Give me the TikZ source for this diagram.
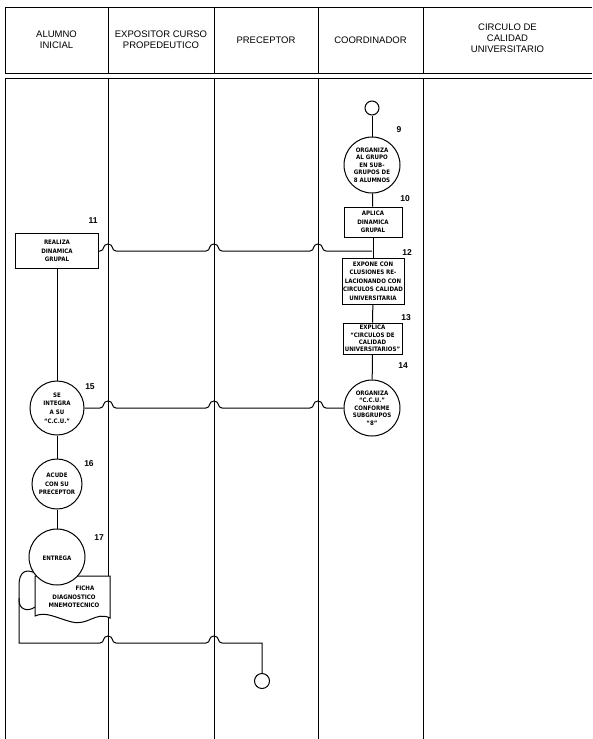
\documentclass[tikz,border=0pt]{standalone}
\usepackage{fontspec}
\setmainfont{Liberation Sans}
\newfontfamily\nodefont{DejaVu Sans Condensed}
\begin{document}
\begin{tikzpicture}[x=1pt,y=-1pt,line width=1pt,
  lane/.style={line width=0.9pt},
  head/.style={font=\fontsize{9.5}{11}\selectfont, align=center, inner sep=0pt},
  txt/.style={font=\nodefont\bfseries\fontsize{6.1}{8.6}\selectfont, align=center},
  tight/.style={font=\nodefont\bfseries\fontsize{6.1}{7.4}\selectfont},
  proc/.style 2 args={draw, rectangle, fill=white, minimum width=#1, minimum height=#2, inner sep=0pt, txt},
  act/.style={draw, circle, fill=white, minimum size=#1, inner sep=0pt, txt},
  term/.style={draw, circle, fill=white, minimum size=#1, inner sep=0pt},
  num/.style={font=\bfseries\fontsize{8.5}{9}\selectfont, inner sep=0pt},
  jump/.style 2 args={insert path={-- (#1-8,#2) .. controls (#1-3,#2) and (#1-6,#2-7) .. (#1,#2-7) .. controls (#1+6,#2-7) and (#1+3,#2) .. (#1+8,#2)}}]
\useasboundingbox (0,0) rectangle (592,739);
% lanes
\draw[lane] (5,7) -- (592,7);
\draw[lane] (5,73) -- (592,73);
\draw[lane] (5,78) -- (592,78);
\foreach \xx in {5,108,214,318,423} {
  \draw[lane] (\xx,7) -- (\xx,73);
  \draw[lane] (\xx,78) -- (\xx,739);
}
% headers
\node[head] (h1) at (56.5,40) {ALUMNO\\INICIAL};
\node[head] (h2) at (161,40) {EXPOSITOR CURSO\\PROPEDEUTICO};
\node[head] (h3) at (266,40) {PRECEPTOR};
\node[head] (h4) at (370.5,40) {COORDINADOR};
\node[head] (h5) at (507.5,38) {CIRCULO DE\\CALIDAD\\UNIVERSITARIO};
% coordinator column
\node[term=14pt] (s0) at (372,108) {};
\node[act=56pt, tight] (c9) at (372,165) {ORGANIZA\\AL GRUPO\\EN SUB-\\GRUPOS DE\\8 ALUMNOS};
\node[proc={58pt}{30pt}] (b10) at (373,222) {APLICA\\DINAMICA\\GRUPAL};
\node[proc={62pt}{46pt}] (b12) at (373,281) {EXPONE CON\\CLUSIONES RE-\\LACIONANDO CON\\CIRCULOS CALIDAD\\UNIVERSITARIA};
\node[proc={59pt}{31pt}, tight] (b13) at (372.5,338.5) {EXPLICA\\“CIRCULOS DE\\CALIDAD\\UNIVERSITARIOS”};
\node[act=56pt, tight] (c14) at (372,408) {ORGANIZA\\“C.C.U.”\\CONFORME\\SUBGRUPOS\\“8”};
% alumno column
\node[proc={83pt}{35pt}] (b11) at (57,251) {REALIZA\\DINAMICA\\GRUPAL};
\node[act=54pt] (c15) at (57,408) {SE\\INTEGRA\\A SU\\“C.C.U.”};
\node[act=50pt] (c16) at (57,484) {ACUDE\\CON SU\\PRECEPTOR};
% document
\draw[fill=white] (35,576) -- (110,576) -- (110,618)
  .. controls (96,611) and (88,626) .. (72,622)
  .. controls (56,618) and (46,611) .. (35,616) -- cycle;
\draw (40,576) .. controls (26,566) and (19,572) .. (19,585) -- (19,600)
  .. controls (19,610) and (28,612) .. (35,607);
\node[txt] (d17) at (74,597) {\hspace*{22pt}FICHA\\DIAGNOSTICO\\MNEMOTECNICO};
\node[act=56pt] (c17) at (57,557) {\raisebox{-8pt}{ENTREGA}};
\node[term=15pt] (send) at (262,681) {};
% numbers
\node[num] (n9) at (399,130) {9};
\node[num] (n10) at (405,199) {10};
\node[num] (n11) at (93,221) {11};
\node[num] (n12) at (407,253) {12};
\node[num] (n13) at (406,318) {13};
\node[num] (n14) at (403,366) {14};
\node[num] (n15) at (90,387) {15};
\node[num] (n16) at (89,464) {16};
\node[num] (n17) at (99,538) {17};
% flow
\draw (s0) -- (c9);
\draw (c9) -- (b10);
\draw (b10) -- (b12);
\draw (b12) -- (b13);
\draw (b13) -- (c14);
\draw (b11) -- (c15);
\draw (c15) -- (c16);
\draw (c16) -- (c17);
\coordinate (j1) at (372,251);
\draw (b11.east) [jump={108}{251}] [jump={214}{251}] [jump={318}{251}] -- (j1);
\draw (c15.east) [jump={108}{408}] [jump={214}{408}] [jump={318}{408}] -- (c14.west);
\coordinate (k1) at (19,598);
\coordinate (k2) at (19,643);
\coordinate (k3) at (262,643);
\draw (k1) -- (k2) [jump={108}{643}] [jump={214}{643}] -- (k3) -- (send);
\end{tikzpicture}
\end{document}
